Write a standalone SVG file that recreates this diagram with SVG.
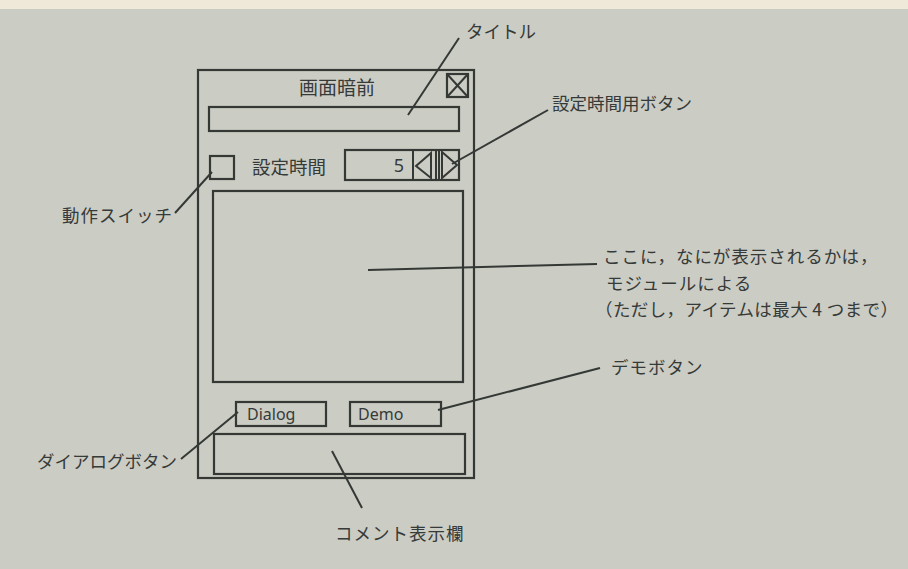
<svg xmlns="http://www.w3.org/2000/svg" width="908" height="569" viewBox="0 0 908 569">
<style>
.box{fill:none;stroke:#343936;stroke-width:2.2}
.ln{fill:none;stroke:#343936;stroke-width:2}
.jp{font-family:"Noto Sans CJK JP","Noto Sans",sans-serif;font-size:17.5px;fill:#363a38}
.sp{letter-spacing:1px}
.en{font-family:"Noto Sans","Liberation Sans",sans-serif;font-size:16px;fill:#363a38}
</style>
<rect x="0" y="0" width="908" height="569" fill="#cbccc4"/>
<rect x="0" y="0" width="908" height="9" fill="#efe9da"/>
<g id="window">
<rect class="box" x="198" y="70" width="276" height="408"/>
</g>
<g id="closebox">
<rect class="box" x="447" y="74" width="21" height="23"/>
<path class="ln" d="M447 74L468 97M468 74L447 97"/>
</g>
<g id="title">
<text class="jp" x="337" y="95" text-anchor="middle" style="font-size:19px">画面暗前</text>
<rect class="box" x="209" y="107" width="250" height="24"/>
</g>
<g id="switch">
<rect class="box" x="210" y="156" width="24" height="23"/>
<text class="jp" x="252" y="174" style="font-size:18.5px">設定時間</text>
</g>
<g id="timebox">
<rect class="box" x="345" y="150" width="114" height="30"/>
<text class="en" x="404" y="172" text-anchor="end" style="font-size:18px">5</text>
<path class="ln" d="M413 150V180M436 150V180M439 150V180"/>
<path class="ln" d="M431 153L416 166L431 178Z"/>
<path class="ln" d="M442 152L457 165L442 178Z"/>
</g>
<g id="mainarea">
<rect class="box" x="213" y="191" width="250" height="191"/>
</g>
<g id="dialog">
<rect class="box" x="236" y="402" width="90" height="24"/>
<text class="en" x="247" y="420">Dialog</text>
</g>
<g id="demo">
<rect class="box" x="350" y="402" width="91" height="24"/>
<text class="en" x="358" y="420">Demo</text>
</g>
<g id="comment">
<rect class="box" x="214" y="434" width="251" height="40"/>
</g>
<g id="connectors">
<path class="ln" d="M459 38L408 115"/>
<path class="ln" d="M548 110L452 164"/>
<path class="ln" d="M175 213L212 172"/>
<path class="ln" d="M368 270L597 264"/>
<path class="ln" d="M438 410L600 368"/>
<path class="ln" d="M181 459L238 412"/>
<path class="ln" d="M332 451L362 508"/>
</g>
<g id="labels">
<text class="jp" x="466" y="38">タイトル</text>
<text class="jp" x="552" y="110">設定時間用ボタン</text>
<text class="jp sp" x="62" y="222">動作スイッチ</text>
<text class="jp sp" x="603" y="263">ここに，なにが表示されるかは，</text>
<text class="jp sp" x="606" y="290">モジュールによる</text>
<text class="jp" x="595" y="316" style="letter-spacing:0.4px">（ただし，アイテムは最大 4 つまで）</text>
<text class="jp sp" x="611" y="374">デモボタン</text>
<text class="jp" x="37" y="468">ダイアログボタン</text>
<text class="jp sp" x="335" y="540">コメント表示欄</text>
</g>
</svg>
